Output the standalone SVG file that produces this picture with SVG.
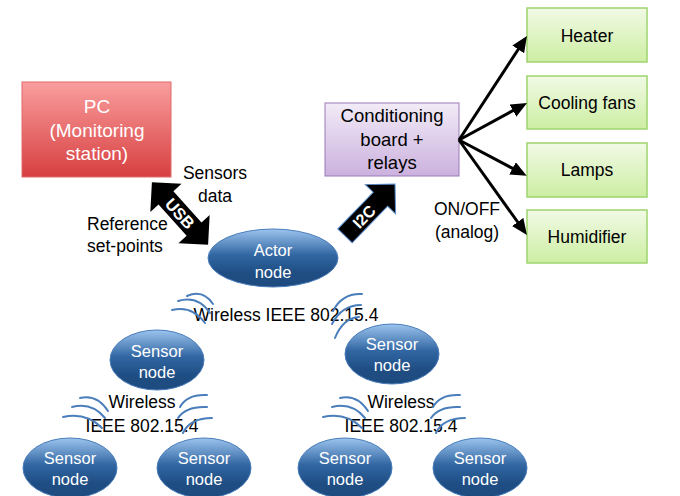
<svg xmlns="http://www.w3.org/2000/svg" width="680" height="496" viewBox="0 0 680 496">
<defs>
<linearGradient id="gRed" x1="0" y1="0" x2="0" y2="1"><stop offset="0" stop-color="#fa9e9e"/><stop offset="1" stop-color="#d73f40"/></linearGradient>
<linearGradient id="gLav" x1="0" y1="0" x2="0" y2="1"><stop offset="0" stop-color="#f2ebf7"/><stop offset="1" stop-color="#cbb1de"/></linearGradient>
<linearGradient id="gGreen" x1="0" y1="0" x2="0" y2="1"><stop offset="0" stop-color="#f1fae6"/><stop offset="1" stop-color="#cdeea2"/></linearGradient>
<linearGradient id="gBlue" x1="0" y1="0" x2="0" y2="1"><stop offset="0" stop-color="#9cc4ee"/><stop offset="0.45" stop-color="#3166a2"/><stop offset="0.75" stop-color="#1f4e84"/><stop offset="1" stop-color="#1e4a7e"/></linearGradient>
<marker id="ah" markerUnits="userSpaceOnUse" markerWidth="16" markerHeight="14" viewBox="0 0 16 14" refX="8" refY="7" orient="auto"><path d="M0,0 L16,7 L0,14 Z" fill="#000"/></marker>
</defs>
<style>
text{font-family:"Liberation Sans",Arial,sans-serif;}
.pc{fill:url(#gRed);stroke:#e06a6a;stroke-width:1;}
.lav{fill:url(#gLav);stroke:#9a7ab8;stroke-width:1;}
.grn{fill:url(#gGreen);stroke:#9fd46e;stroke-width:1.5;}
.ell{fill:url(#gBlue);stroke:#4a7ebb;stroke-width:1;}
.wt{fill:#fff;text-anchor:middle;}
.bk{fill:#000;text-anchor:middle;}
.lbl{font-size:17.5px;}
.nd{font-size:16.5px;}
.conn{stroke:#000;stroke-width:3;fill:none;marker-end:url(#ah);}
.wave{stroke:#4a7ebb;stroke-width:2;fill:none;stroke-linecap:round;}
.blk{fill:#000;}
</style>

<g id="pc">
<rect class="pc" x="22" y="82" width="149" height="95"/>
<text class="wt" x="97" y="113" font-size="19">PC</text>
<text class="wt" x="97" y="137" font-size="19">(Monitoring</text>
<text class="wt" x="97" y="160" font-size="19">station)</text>
</g>

<g id="conditioning">
<rect class="lav" x="325" y="103" width="134" height="73"/>
<text class="bk" x="392" y="122" font-size="18.5">Conditioning</text>
<text class="bk" x="392" y="146" font-size="18.5">board +</text>
<text class="bk" x="392" y="169" font-size="18.5">relays</text>
</g>

<g id="heater">
<rect class="grn" x="527" y="8" width="120" height="54"/>
<text class="bk lbl" x="587" y="42">Heater</text>
</g>
<g id="cooling">
<rect class="grn" x="527" y="76" width="120" height="53"/>
<text class="bk lbl" x="587" y="109">Cooling fans</text>
</g>
<g id="lamps">
<rect class="grn" x="527" y="143" width="120" height="54"/>
<text class="bk lbl" x="587" y="176">Lamps</text>
</g>
<g id="humidifier">
<rect class="grn" x="527" y="210" width="120" height="53"/>
<text class="bk lbl" x="587" y="243">Humidifier</text>
</g>

<g id="actor">
<ellipse class="ell" cx="273" cy="258" rx="65" ry="29"/>
<text class="wt nd" x="273" y="256">Actor</text>
<text class="wt nd" x="273" y="278">node</text>
</g>
<g id="sensor1">
<ellipse class="ell" cx="157" cy="360" rx="47" ry="30"/>
<text class="wt nd" x="157" y="357">Sensor</text>
<text class="wt nd" x="157" y="378">node</text>
</g>
<g id="sensor2">
<ellipse class="ell" cx="392" cy="354" rx="47" ry="30"/>
<text class="wt nd" x="392" y="350">Sensor</text>
<text class="wt nd" x="392" y="371">node</text>
</g>
<g id="sensor3">
<ellipse class="ell" cx="70" cy="468" rx="47" ry="30"/>
<text class="wt nd" x="70" y="464">Sensor</text>
<text class="wt nd" x="70" y="485">node</text>
</g>
<g id="sensor4">
<ellipse class="ell" cx="204" cy="468" rx="47" ry="30"/>
<text class="wt nd" x="204" y="464">Sensor</text>
<text class="wt nd" x="204" y="485">node</text>
</g>
<g id="sensor5">
<ellipse class="ell" cx="345" cy="468" rx="47" ry="30"/>
<text class="wt nd" x="345" y="464">Sensor</text>
<text class="wt nd" x="345" y="485">node</text>
</g>
<g id="sensor6">
<ellipse class="ell" cx="480" cy="468" rx="47" ry="30"/>
<text class="wt nd" x="480" y="464">Sensor</text>
<text class="wt nd" x="480" y="485">node</text>
</g>

<g id="connectors">
<line class="conn" x1="459" y1="140" x2="522.6" y2="42.7"/>
<line class="conn" x1="459" y1="140" x2="520" y2="106.8"/>
<line class="conn" x1="459" y1="140" x2="519.6" y2="172.1"/>
<line class="conn" x1="459" y1="140" x2="522.3" y2="228.5"/>
<g transform="translate(180,213.5) rotate(48)">
<path class="blk" d="M-42,0 L-21,-21 L-21,-10 L21,-10 L21,-21 L42,0 L21,21 L21,10 L-21,10 L-21,21 Z"/>
<text class="wt" x="0" y="6" font-size="16.5" font-weight="bold">USB</text>
</g>
<g transform="translate(370,210) rotate(-46)">
<path class="blk" stroke="#5b8fd0" stroke-width="1" d="M-36,-10 L15,-10 L15,-21 L36,0 L15,21 L15,10 L-36,10 Z"/>
<text class="wt" x="-9" y="6" font-size="16" font-weight="bold">I2C</text>
</g>
</g>

<g id="labels">
<text class="bk lbl" x="215" y="179">Sensors</text>
<text class="bk lbl" x="215" y="202">data</text>
<text class="lbl" x="87" y="230">Reference</text>
<text class="lbl" x="87" y="252">set-points</text>
<text class="bk lbl" x="467" y="215">ON/OFF</text>
<text class="bk lbl" x="467" y="238">(analog)</text>
<text class="bk lbl" x="286" y="321">Wireless IEEE 802.15.4</text>
<text class="bk lbl" x="142" y="408">Wireless</text>
<text class="bk lbl" x="142" y="432">IEEE 802.15.4</text>
<text class="bk lbl" x="401" y="408">Wireless</text>
<text class="bk lbl" x="401" y="432">IEEE 802.15.4</text>
</g>

<g id="waves">
<path class="wave" d="M187,296 Q203,289 213,304"/>
<path class="wave" d="M178,301 Q198,295 210,313"/>
<path class="wave" d="M172,310 Q192,305 205,323"/>
<path class="wave" d="M362,294 Q342,293 333,311"/>
<path class="wave" d="M361,305 Q342,305 332,324"/>
<path class="wave" d="M359,317 Q343,318 335,338"/>
<path class="wave" d="M80,398 Q97,394 108,411"/>
<path class="wave" d="M72,407 Q92,402 105,418"/>
<path class="wave" d="M63,417 Q86,412 102,428"/>
<path class="wave" d="M207,395 Q187,394 180,407"/>
<path class="wave" d="M207,407 Q186,406 178,418"/>
<path class="wave" d="M212,418 Q190,418 183,433"/>
<path class="wave" d="M340,398 Q357,394 368,411"/>
<path class="wave" d="M332,407 Q352,402 365,418"/>
<path class="wave" d="M323,417 Q346,412 362,428"/>
<path class="wave" d="M460,395 Q440,394 433,407"/>
<path class="wave" d="M460,407 Q439,406 431,418"/>
<path class="wave" d="M465,418 Q443,418 436,433"/>
</g>
</svg>
